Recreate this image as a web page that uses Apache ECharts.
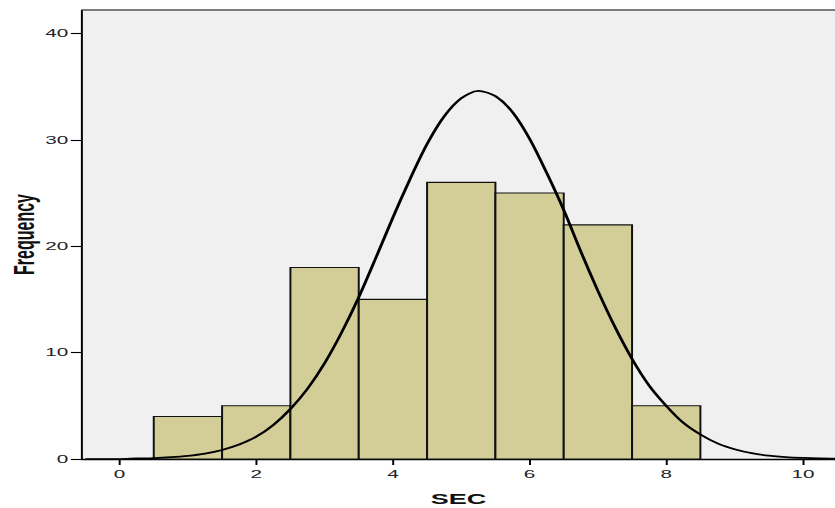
<!DOCTYPE html>
<html>
<head>
<meta charset="utf-8">
<script src="https://cdn.jsdelivr.net/npm/echarts@6/dist/echarts.min.js"></script>
<style>
html,body{margin:0;padding:0;background:#fff;}
#wrap{width:835px;height:508px;overflow:hidden;position:relative;}
#chart{width:464px;height:508px;transform:scaleX(1.7996);transform-origin:0 0;}
</style>
</head>
<body>
<div id="wrap"><div id="chart"></div></div>
<script>
// Histogram bins (centers) and frequencies
var binCenters = [1, 2, 3, 4, 5, 6, 7, 8];
var frequencies = [4, 5, 18, 15, 26, 25, 22, 5];
var binWidth = 1;

// Normal curve points
var curveX = [-0.5, -0.25, 0, 0.25, 0.5, 0.75, 1, 1.25, 1.5, 1.75, 2, 2.25, 2.5, 2.75, 3, 3.25, 3.5, 3.75, 4, 4.25, 4.5, 4.75, 5, 5.25, 5.5, 5.75, 6, 6.25, 6.5, 6.75, 7, 7.25, 7.5, 7.75, 8, 8.25, 8.5, 8.75, 9, 9.25, 9.5, 9.75, 10, 10.25, 10.5];
var curveY = [0.0, 0.0, 0.0, 0.05, 0.09, 0.17, 0.3, 0.51, 0.85, 1.36, 2.1, 3.2, 4.7, 6.6, 9.0, 11.9, 15.2, 18.9, 22.7, 26.3, 29.6, 32.2, 33.9, 34.6, 34.1, 32.6, 30.1, 26.9, 23.4, 19.5, 15.8, 12.4, 9.4, 6.9, 5.0, 3.4, 2.3, 1.47, 0.92, 0.55, 0.32, 0.18, 0.1, 0.05, 0.03];

// Axis ticks
var xTicks = [0, 2, 4, 6, 8, 10];
var yTicks = [0, 10, 20, 30, 40];

var chart = echarts.init(document.getElementById('chart'), null, {renderer: 'svg', width: 464, height: 508});

var barData = binCenters.map(function (c, i) { return [c, frequencies[i]]; });
var lineData = curveX.map(function (x, i) { return [x, curveY[i]]; });

var FONT = 'Liberation Sans, Arial, sans-serif';

var option = {
  animation: false,
  backgroundColor: '#ffffff',
  grid: {
    left: 45.57, right: 0, top: 10, bottom: 49,
    outerBoundsMode: 'none',
    containLabel: false,
    show: true,
    backgroundColor: '#f0f0f0',
    borderWidth: 0
  },
  xAxis: {
    type: 'value',
    min: -0.55,
    max: 10.47,
    name: 'SEC',
    nameLocation: 'middle',
    nameGap: 32,
    nameMoveOverlap: false,
    nameTextStyle: {fontFamily: FONT, fontWeight: 'bold', fontSize: 15, color: '#111'},
    splitLine: {show: false},
    axisLine: {show: true, onZero: false, lineStyle: {color: '#000', width: 1.4}},
    axisTick: {show: true, length: 6, customValues: xTicks, lineStyle: {color: '#000', width: 1.1}},
    axisLabel: {customValues: xTicks, color: '#222', fontSize: 11.5, margin: 9, fontFamily: FONT}
  },
  yAxis: {
    type: 'value',
    min: 0,
    max: 42.2,
    name: 'Frequency',
    nameLocation: 'middle',
    nameGap: 24,
    nameMoveOverlap: false,
    nameRotate: 90,
    nameTextStyle: {fontFamily: FONT, fontWeight: 'bold', fontSize: 16, color: '#111'},
    splitLine: {show: false},
    axisLine: {show: true, onZero: false, lineStyle: {color: '#000', width: 1.1}},
    axisTick: {show: true, length: 6.2, customValues: yTicks, lineStyle: {color: '#000', width: 1.1}},
    axisLabel: {customValues: yTicks, color: '#222', fontSize: 11.5, margin: 7.6, fontFamily: FONT}
  },
  series: [
    {
      type: 'custom',
      data: barData,
      z: 2,
      renderItem: function (params, api) {
        var c = api.value(0), v = api.value(1);
        var p1 = api.coord([c - binWidth / 2, v]);
        var p2 = api.coord([c + binWidth / 2, 0]);
        return {
          type: 'rect',
          shape: {x: p1[0], y: p1[1], width: p2[0] - p1[0], height: p2[1] - p1[1]},
          style: {fill: '#d3ce98', stroke: '#111', lineWidth: 1.1}
        };
      }
    },
    {
      type: 'line',
      data: lineData,
      smooth: 0.3,
      symbol: 'none',
      z: 3,
      lineStyle: {color: '#000', width: 1.7}
    }
  ],
  graphic: [
    {
      type: 'line',
      shape: {x1: 45.57, y1: 10, x2: 464, y2: 10},
      style: {stroke: '#555', lineWidth: 1.5},
      z: 10
    }
  ]
};
chart.setOption(option);
</script>
</body>
</html>
